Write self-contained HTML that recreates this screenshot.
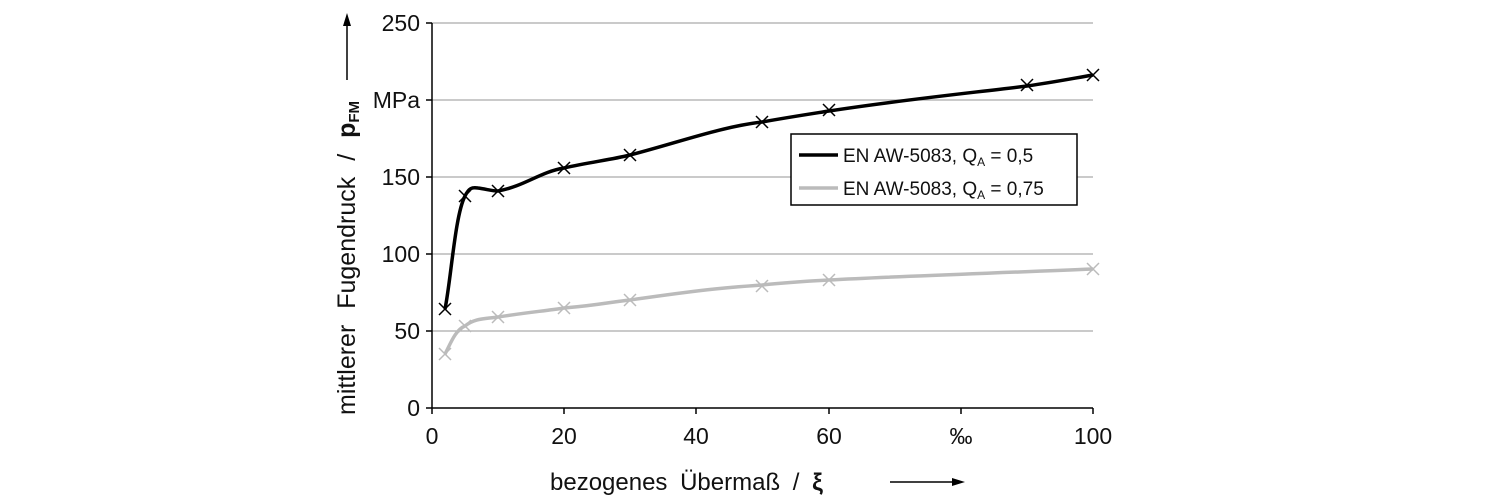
<!DOCTYPE html><html><head><style>body{margin:0;background:#fff}svg{display:block}text{font-family:"Liberation Sans",sans-serif;fill:#111}</style></head><body>
<svg width="1500" height="500" viewBox="0 0 1500 500">
<g stroke="#aaa" stroke-width="1.2">
<line x1="432" y1="23" x2="1093" y2="23"/><line x1="432" y1="100" x2="1093" y2="100"/><line x1="432" y1="177" x2="1093" y2="177"/><line x1="432" y1="254" x2="1093" y2="254"/><line x1="432" y1="331" x2="1093" y2="331"/></g>
<g stroke="#000" stroke-width="1.5">
<line x1="432" y1="23" x2="432" y2="408"/><line x1="432" y1="408" x2="1093" y2="408"/>
<line x1="426" y1="23" x2="432" y2="23"/><line x1="426" y1="100" x2="432" y2="100"/><line x1="426" y1="177" x2="432" y2="177"/><line x1="426" y1="254" x2="432" y2="254"/><line x1="426" y1="331" x2="432" y2="331"/><line x1="426" y1="408" x2="432" y2="408"/>
<line x1="432" y1="408" x2="432" y2="414"/><line x1="564" y1="408" x2="564" y2="414"/><line x1="696" y1="408" x2="696" y2="414"/><line x1="829" y1="408" x2="829" y2="414"/><line x1="961" y1="408" x2="961" y2="414"/><line x1="1093" y1="408" x2="1093" y2="414"/></g>
<g font-size="23" text-anchor="end"><text x="420" y="31">250</text><text x="420" y="108">MPa</text><text x="420" y="185">150</text><text x="420" y="262">100</text><text x="420" y="339">50</text><text x="420" y="416">0</text></g>
<g font-size="23" text-anchor="middle"><text x="432" y="444">0</text><text x="564" y="444">20</text><text x="696" y="444">40</text><text x="829" y="444">60</text><text x="961" y="444">‰</text><text x="1093" y="444">100</text></g>
<text x="550" y="490" font-size="24" word-spacing="6">bezogenes  Übermaß / <tspan font-weight="bold">ξ</tspan></text>
<line x1="890" y1="482" x2="955" y2="482" stroke="#000" stroke-width="1.5"/><polygon points="965,482 952,478 952,486" fill="#000"/>
<g transform="translate(355,415) rotate(-90)"><text x="0" y="0" font-size="25" word-spacing="9">mittlerer Fugendruck / <tspan font-weight="bold">p</tspan><tspan font-weight="bold" font-size="15" dy="4">FM</tspan></text>
<line x1="335" y1="-8" x2="390" y2="-8" stroke="#000" stroke-width="1.5"/><polygon points="402,-8 389,-12 389,-4" fill="#000"/></g>
<path d="M445,309 C451,280 455,215 465,196 C469,188 472,187 478,188 C486,189 492,191 498,191 C525,186 540,172 564,168 C590,162 610,160 630,155 C680,142 720,127 762,122 C790,117 810,114 829,111 C900,100 970,93 1027,86 C1055,82 1075,78 1093,75" fill="none" stroke="#000" stroke-width="3.5"/>
<path d="M445,354 C450,345 455,330 465,326 C475,318 485,319 498,317 C530,312 545,311 564,308 C600,305 610,302 630,300 C700,290 720,288 762,285 C790,282 810,281 829,280 C900,276 1000,273 1093,269" fill="none" stroke="#bbb" stroke-width="3.5"/>
<g stroke="#000" stroke-width="1.5" fill="none">
<path d="M439,303l12,12m0,-12l-12,12M459,190l12,12m0,-12l-12,12M492,185l12,12m0,-12l-12,12M558,162l12,12m0,-12l-12,12M624,149l12,12m0,-12l-12,12M756,116l12,12m0,-12l-12,12M823,104l12,12m0,-12l-12,12M1021,79l12,12m0,-12l-12,12M1087,69l12,12m0,-12l-12,12"/></g>
<g stroke="#bbb" stroke-width="1.5" fill="none">
<path d="M439,348l12,12m0,-12l-12,12M459,320l12,12m0,-12l-12,12M492,311l12,12m0,-12l-12,12M558,302l12,12m0,-12l-12,12M624,294l12,12m0,-12l-12,12M756,280l12,12m0,-12l-12,12M823,274l12,12m0,-12l-12,12M1087,263l12,12m0,-12l-12,12"/></g>
<rect x="791" y="134" width="286" height="71" fill="#fff" stroke="#000" stroke-width="1.5"/>
<line x1="799" y1="155" x2="838" y2="155" stroke="#000" stroke-width="3.5"/>
<line x1="799" y1="188" x2="838" y2="188" stroke="#bbb" stroke-width="3.5"/>
<g font-size="19"><text x="843" y="162">EN AW-5083, Q<tspan font-size="12" dy="4">A</tspan><tspan dy="-4"> = 0,5</tspan></text>
<text x="843" y="195">EN AW-5083, Q<tspan font-size="12" dy="4">A</tspan><tspan dy="-4"> = 0,75</tspan></text></g>
</svg></body></html>
